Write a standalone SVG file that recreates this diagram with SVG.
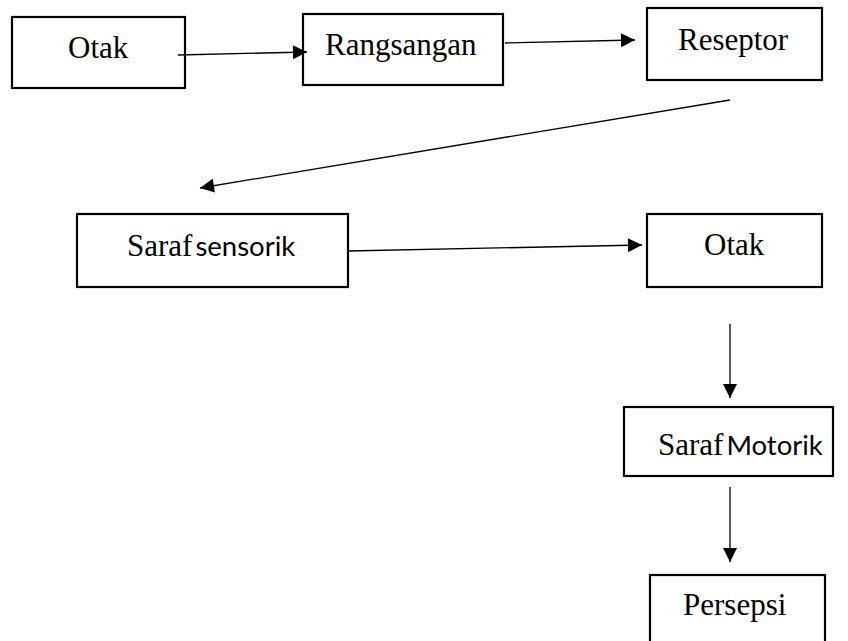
<svg xmlns="http://www.w3.org/2000/svg" width="848" height="641" viewBox="0 0 848 641">
<style>
.box{fill:#fff;stroke:#000;stroke-width:2.2}
.t{font-family:"Liberation Serif","Times New Roman",serif;font-size:31px;fill:#000}
.s{font-family:Lato,"Noto Sans",sans-serif;font-size:27.5px}
.c{stroke:#000;stroke-width:1.3;fill:none;marker-end:url(#ah)}
</style>
<defs>
<marker id="ah" markerUnits="userSpaceOnUse" markerWidth="16" markerHeight="16" viewBox="0 0 16 16" refX="15" refY="8" orient="auto">
<path d="M1,1 L15,8 L1,15 Z" fill="#000"/>
</marker>
</defs>
<rect width="848" height="641" fill="#fff"/>
<g id="n1"><rect class="box" x="12" y="17" width="173" height="71"/><text class="t" x="68" y="58">Otak</text></g>
<g id="n2"><rect class="box" x="303" y="14" width="200" height="71"/><text class="t" x="325" y="55">Rangsangan</text></g>
<g id="n3"><rect class="box" x="647" y="8" width="175" height="72"/><text class="t" x="678" y="50">Reseptor</text></g>
<g id="n4"><rect class="box" x="77" y="214" width="271" height="73"/><text class="t" x="127" y="256">Saraf<tspan class="s" dx="3">sensorik</tspan></text></g>
<g id="n5"><rect class="box" x="647" y="214" width="175" height="73"/><text class="t" x="704" y="255">Otak</text></g>
<g id="n6"><rect class="box" x="624" y="407" width="209" height="69"/><text class="t" x="658" y="455">Saraf<tspan class="s" dx="3">Motorik</tspan></text></g>
<g id="n7"><rect class="box" x="650" y="575" width="175" height="80"/><text class="t" x="683" y="615">Persepsi</text></g>
<g id="connectors">
<line class="c" x1="178" y1="55" x2="307" y2="52"/>
<line class="c" x1="505" y1="43" x2="635" y2="40"/>
<line class="c" x1="730" y1="100" x2="200" y2="188"/>
<line class="c" x1="348" y1="251" x2="642" y2="245"/>
<line class="c" x1="730" y1="324" x2="730" y2="398"/>
<line class="c" x1="730" y1="487" x2="730" y2="562"/>
</g>
</svg>
